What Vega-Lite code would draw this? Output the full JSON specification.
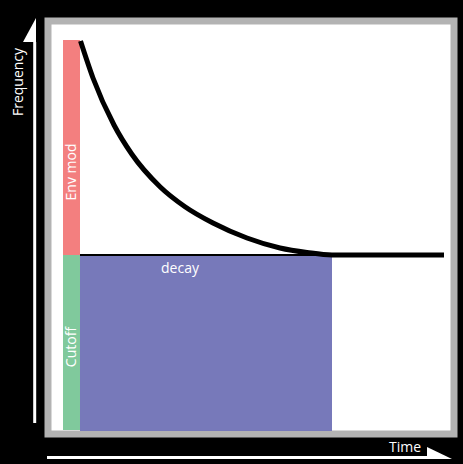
{
  "$schema": "https://vega.github.io/schema/vega-lite/v6.json",
  "width": 406,
  "height": 413,
  "autosize": {"type": "none"},
  "padding": {"left": 48, "top": 21, "right": 9, "bottom": 30},
  "background": "#000000",
  "config": {
    "view": {"fill": "#ffffff", "stroke": "#b3b3b3", "strokeWidth": 7},
    "font": "Open Sans"
  },
  "datasets": {
    "regions": [
      {"part": "Env mod", "t": -17, "t2": 0, "f": 176, "f2": 391},
      {"part": "Cutoff", "t": -17, "t2": 0, "f": 1, "f2": 176},
      {"part": "decay", "t": 0, "t2": 252, "f": 0, "f2": 176}
    ],
    "envelope": [
      {"t": 0.5, "f": 390},
      {"t": 13, "f": 353},
      {"t": 34, "f": 306},
      {"t": 51.7, "f": 277},
      {"t": 80, "f": 244.3},
      {"t": 105, "f": 224.3},
      {"t": 133, "f": 208},
      {"t": 167, "f": 193},
      {"t": 200, "f": 183},
      {"t": 227, "f": 178.5},
      {"t": 252, "f": 176},
      {"t": 364, "f": 176}
    ],
    "cutoffLevel": [{"t": 0, "t2": 252, "f": 176, "f2": 176}],
    "shafts": [
      {"axis": "Frequency", "t": -45.3, "t2": -45.3, "f": 389, "f2": 8},
      {"axis": "Time", "t": -33, "t2": 347, "f": -26.6, "f2": -26.6}
    ],
    "headUp": [
      {"t": -57, "t2": -44, "f": 389},
      {"t": -44, "t2": -44, "f": 413}
    ],
    "headRight": [
      {"t": 347, "f": -16, "f2": -28},
      {"t": 372, "f": -28, "f2": -28}
    ],
    "vlabels": [
      {"text": "Frequency", "t": -60.8, "f": 349},
      {"text": "Env mod", "t": -8, "f": 259},
      {"text": "Cutoff", "t": -8, "f": 84}
    ],
    "hlabels": [
      {"text": "decay", "t": 100, "f": 162},
      {"text": "Time", "t": 325, "f": -17}
    ]
  },
  "encoding": {
    "x": {"field": "t", "type": "quantitative", "scale": {"domain": [-32, 374], "nice": false, "zero": false}, "axis": null},
    "y": {"field": "f", "type": "quantitative", "scale": {"domain": [-3, 410], "nice": false, "zero": false}, "axis": null}
  },
  "layer": [
    {
      "data": {"name": "regions"},
      "mark": {"type": "rect"},
      "encoding": {
        "x2": {"field": "t2"},
        "y2": {"field": "f2"},
        "color": {"field": "part", "type": "nominal", "scale": {"domain": ["Env mod", "Cutoff", "decay"], "range": ["#f37f7f", "#80c99c", "#7779ba"]}, "legend": null}
      }
    },
    {
      "data": {"name": "cutoffLevel"},
      "mark": {"type": "rule", "color": "#000000", "strokeWidth": 2},
      "encoding": {"x2": {"field": "t2"}, "y2": {"field": "f2"}}
    },
    {
      "data": {"name": "envelope"},
      "mark": {"type": "line", "color": "#000000", "strokeWidth": 5, "interpolate": "monotone", "strokeCap": "butt"},
      "encoding": {}
    },
    {
      "data": {"name": "shafts"},
      "mark": {"type": "rule", "color": "#ffffff", "strokeWidth": 3},
      "encoding": {"x2": {"field": "t2"}, "y2": {"field": "f2"}}
    },
    {
      "data": {"name": "headUp"},
      "mark": {"type": "area", "orient": "horizontal", "color": "#ffffff", "opacity": 1},
      "encoding": {"x2": {"field": "t2"}}
    },
    {
      "data": {"name": "headRight"},
      "mark": {"type": "area", "orient": "vertical", "color": "#ffffff", "opacity": 1},
      "encoding": {"y2": {"field": "f2"}}
    },
    {
      "data": {"name": "vlabels"},
      "mark": {"type": "text", "angle": 270, "align": "center", "baseline": "middle", "color": "#ffffff", "fontSize": 14},
      "encoding": {"text": {"field": "text"}}
    },
    {
      "data": {"name": "hlabels"},
      "mark": {"type": "text", "align": "center", "baseline": "middle", "color": "#ffffff", "fontSize": 14},
      "encoding": {"text": {"field": "text"}}
    }
  ]
}
